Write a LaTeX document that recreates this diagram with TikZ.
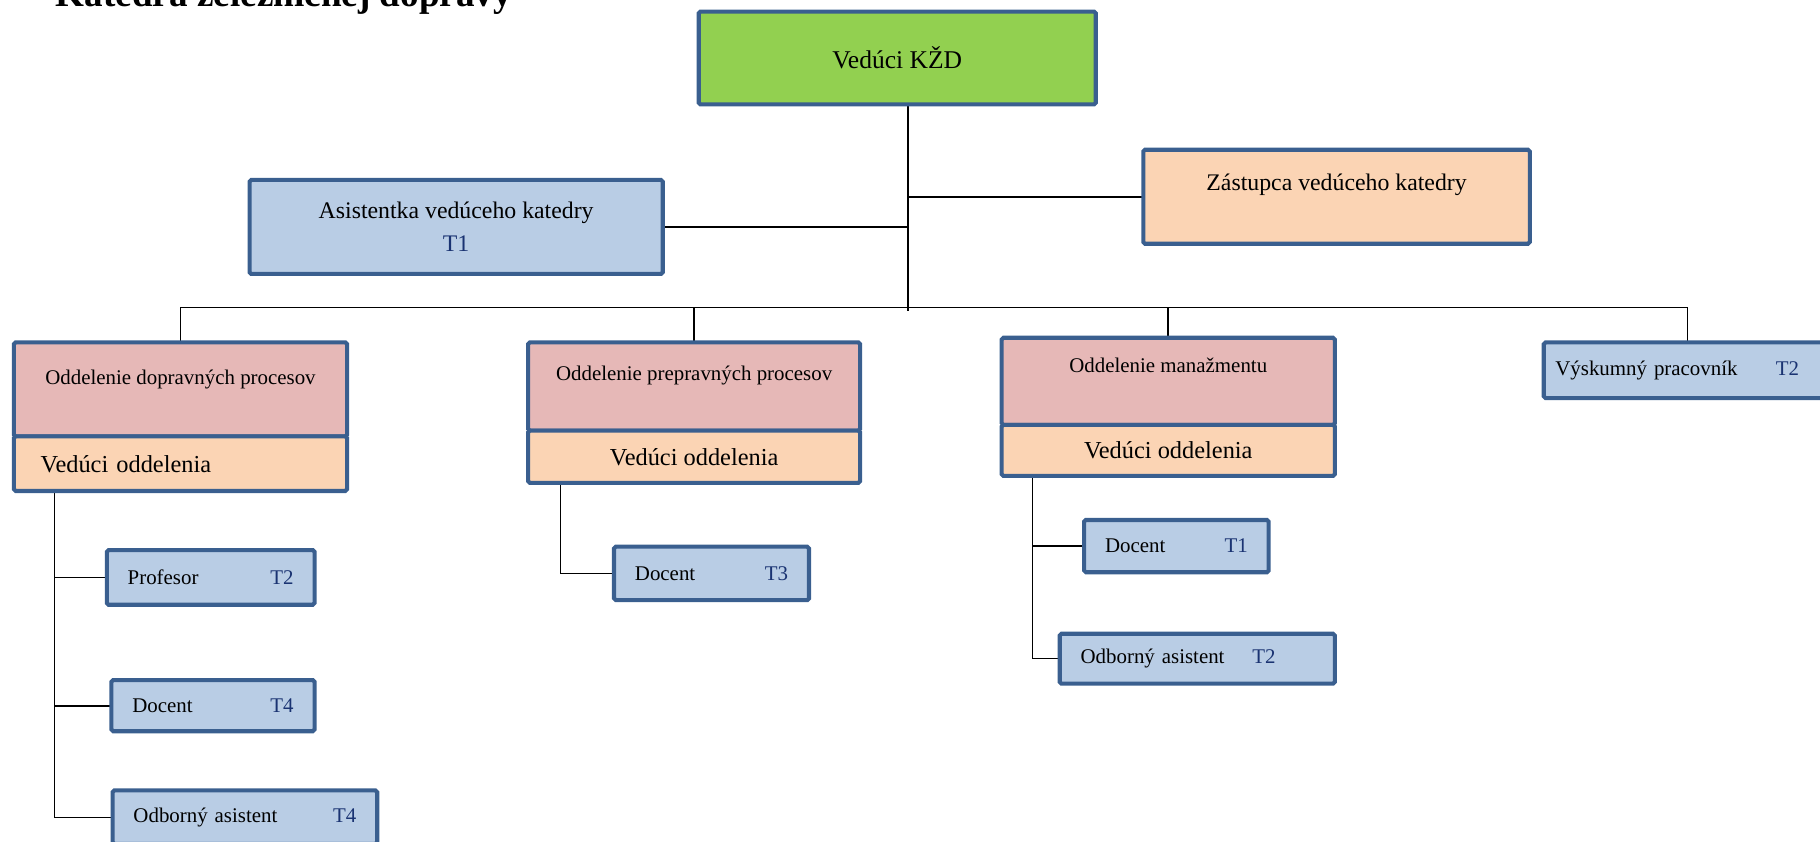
\documentclass[tikz,border=0pt]{standalone}
\usepackage{fontspec}
\setmainfont{Liberation Serif}
\usepackage{xcolor}
\usetikzlibrary{positioning, backgrounds}

\definecolor{frame}{HTML}{3A5F8F}
\definecolor{headgreen}{HTML}{92D050}
\definecolor{peach}{HTML}{FBD4B4}
\definecolor{rose}{HTML}{E6B8B7}
\definecolor{paleblue}{HTML}{B9CDE5}
\definecolor{codeblue}{HTML}{1A3372}

\begin{document}
\begin{tikzpicture}[x=1pt, y=-1pt]
\useasboundingbox (0,0) rectangle (1568,725);

\node[anchor=base west, inner sep=0pt, font=\fontsize{32}{36}\selectfont\bfseries] (title) at (48,6) {Katedra železničnej dopravy};

\begin{scope}[every node/.style={draw=frame, line width=3.5pt, rounded corners=1.5pt, outer sep=0pt, inner ysep=0pt}]
  \node[fill=headgreen, minimum width=342pt, minimum height=80pt, font=\fontsize{22}{26}\selectfont] (kzd) at (773,50) {Vedúci KŽD};
  \node[fill=peach, minimum width=333pt, text height=35pt, text depth=46pt, font=\fontsize{20.5}{24}\selectfont] (zast) at (1151.5,169.5) {Zástupca vedúceho katedry};
  \node[fill=paleblue, minimum width=356pt, minimum height=81pt, align=center, font=\fontsize{20.5}{28}\selectfont] (asist) at (393,195.5) {Asistentka vedúceho katedry\\\textcolor{codeblue}{T1}};

  % oddelenia
  \node[fill=rose, minimum width=287pt, text height=36pt, text depth=45pt, font=\fontsize{18}{22}\selectfont] (odd1) at (155.5,335.5) {Oddelenie dopravných procesov};
  \node[below=0pt of odd1, fill=peach, minimum height=47pt, inner xsep=23pt, text width=241pt, align=left, font=\fontsize{21}{24}\selectfont] (ved1) {Vedúci oddelenia};
  \node[fill=rose, minimum width=286pt, text height=33pt, text depth=43pt, font=\fontsize{18}{22}\selectfont] (odd2) at (598,333) {Oddelenie prepravných procesov};
  \node[below=0pt of odd2, fill=peach, minimum width=286pt, minimum height=45pt, font=\fontsize{21}{24}\selectfont] (ved2) {Vedúci oddelenia};
  \node[fill=rose, minimum width=287pt, text height=30pt, text depth=45pt, font=\fontsize{18}{22}\selectfont] (odd3) at (1006.5,328.5) {Oddelenie manažmentu};
  \node[below=0pt of odd3, fill=peach, minimum width=287pt, minimum height=44pt, font=\fontsize{21}{24}\selectfont] (ved3) {Vedúci oddelenia};
\end{scope}

\begin{scope}[every node/.style={draw=frame, fill=paleblue, line width=3.5pt, rounded corners=1.5pt, outer sep=0pt, inner ysep=0pt, inner xsep=18pt, align=left, font=\fontsize{18}{22}\selectfont}]
  \node[inner xsep=10pt, text width=228pt, minimum height=48pt] (vysk) at (1454,319) {\makebox[210pt][l]{Výskumný pracovník\hfill\textcolor{codeblue}{T2}}};
  \node[text width=143pt, minimum height=47pt] (prof) at (181.5,497.5) {Profesor\hfill\textcolor{codeblue}{T2}};
  \node[text width=139pt, minimum height=44pt] (doc4) at (183.5,608) {Docent\hfill\textcolor{codeblue}{T4}};
  \node[text width=192pt, minimum height=46pt] (oa4) at (211,704) {Odborný asistent\hfill\textcolor{codeblue}{T4}};
  \node[text width=132pt, minimum height=46pt] (doc3) at (613,494) {Docent\hfill\textcolor{codeblue}{T3}};
  \node[text width=123pt, minimum height=45pt] (doc1) at (1013.5,470.5) {Docent\hfill\textcolor{codeblue}{T1}};
  \node[text width=201pt, minimum height=43pt] (oa2) at (1031.5,567.5) {\makebox[168pt][l]{Odborný asistent\hfill\textcolor{codeblue}{T2}}};
\end{scope}

\coordinate (bus) at (782,265);
\coordinate (sp1) at ([xshift=35pt]ved1.south west);
\coordinate (sp2) at ([xshift=28pt]ved2.south west);
\coordinate (sp3) at ([xshift=26pt]ved3.south west);

\begin{scope}[on background layer, line width=1.6pt,
              every edge/.style={draw=black, line width=1.6pt}]
  \path (kzd.south -| bus) edge ([yshift=-3pt]bus);
  \path (zast.west) edge (zast.west -| bus);
  \path (asist.east) edge (asist.east -| bus);
  \draw (odd1.north) -- (odd1.north |- bus) -- (vysk.north |- bus) -- (vysk.north);
  \path (odd2.north) edge (odd2.north |- bus);
  \path (odd3.north) edge (odd3.north |- bus);
  % podriadeni
  \draw (sp1) |- (oa4.west);
  \path (prof.west) edge (prof.west -| sp1);
  \path (doc4.west) edge (doc4.west -| sp1);
  \draw (sp2) |- (doc3.west);
  \draw (sp3) |- (oa2.west);
  \path (doc1.west) edge (doc1.west -| sp3);
\end{scope}

\end{tikzpicture}
\end{document}
